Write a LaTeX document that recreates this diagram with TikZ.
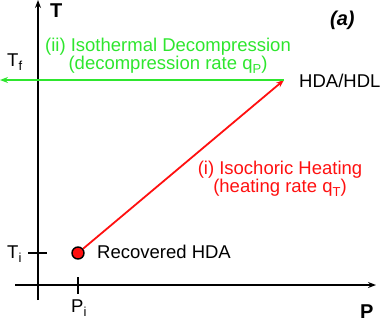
\documentclass[tikz,border=0pt]{standalone}
\usepackage{fontspec}
\setmainfont{Liberation Sans}
\usetikzlibrary{arrows.meta}
\definecolor{heating}{HTML}{FF1010}
\definecolor{decomp}{HTML}{2EE62E}
\newcommand{\lowsub}[1]{\raisebox{-4pt}{\fontsize{13}{13}\selectfont #1}}

\begin{document}
\begin{tikzpicture}[
  x=1pt, y=-1pt,
  lbl/.style={font={\fontsize{18.5}{18}\selectfont}, inner sep=0pt},
  blbl/.style={font={\fontsize{20}{22}\selectfont\bfseries}, inner sep=0pt},
  axis/.style={line width=2pt, -{Stealth[length=8pt, width=6pt]}},
  tick/.style={line width=1.8pt},
  arr/.style={line width=1.8pt, -{Stealth[length=8pt, width=6pt]}},
  dot/.style={circle, draw, line width=1.4pt, fill=heating, minimum size=12pt, inner sep=0pt}
]
  \useasboundingbox (0,0) rectangle (382,322);

  % axes
  \coordinate (ybot) at (38,300);
  \coordinate (ytop) at (38,0);
  \coordinate (xleft) at (15,285);
  \coordinate (xright) at (376,285);
  \draw[axis] (ybot) -- (ytop);
  \draw[axis] (xleft) -- (xright);
  \node[blbl, anchor=base west] (tlab) at (50,17) {T};
  \node[blbl, anchor=base west] (plab) at (360,318) {P};
  \node[blbl, anchor=base west] (panel) at (330,25) {\itshape (a)};

  % ticks
  \coordinate (tilo) at (28,253);
  \coordinate (tihi) at (47,253);
  \coordinate (pilo) at (78,277);
  \coordinate (pihi) at (78,294);
  \draw[tick] (tilo) -- (tihi);
  \draw[tick] (pilo) -- (pihi);
  \node[lbl, anchor=base west] (tilab) at (7,258) {T\lowsub{i}};
  \node[lbl, anchor=base west] (pilab) at (71,312) {P\lowsub{i}};
  \node[lbl, anchor=base west] (tflab) at (7,66) {T\lowsub{f}};

  % states
  \node[dot] (hda) at (78,253) {};
  \coordinate (hdl) at (284,80);
  \coordinate (tfend) at (0,80);
  \node[lbl, anchor=base west] (hdalab) at (97,258) {Recovered HDA};
  \node[lbl, anchor=base west] (hdllab) at (299,87) {HDA/HDL};

  % (i) heating, (ii) decompression
  \draw[arr, heating] (hda) -- (hdl);
  \draw[arr, decomp] (hdl) -- (tfend);
  \node[lbl, heating, align=center, anchor=north] (heat) at (280,160.5)
    {(i) Isochoric Heating\\(heating rate q\lowsub{T})};
  \node[lbl, decomp, align=center, anchor=north] (dec) at (168,37.5)
    {(ii) Isothermal Decompression\\(decompression rate q\lowsub{P})};
\end{tikzpicture}
\end{document}
